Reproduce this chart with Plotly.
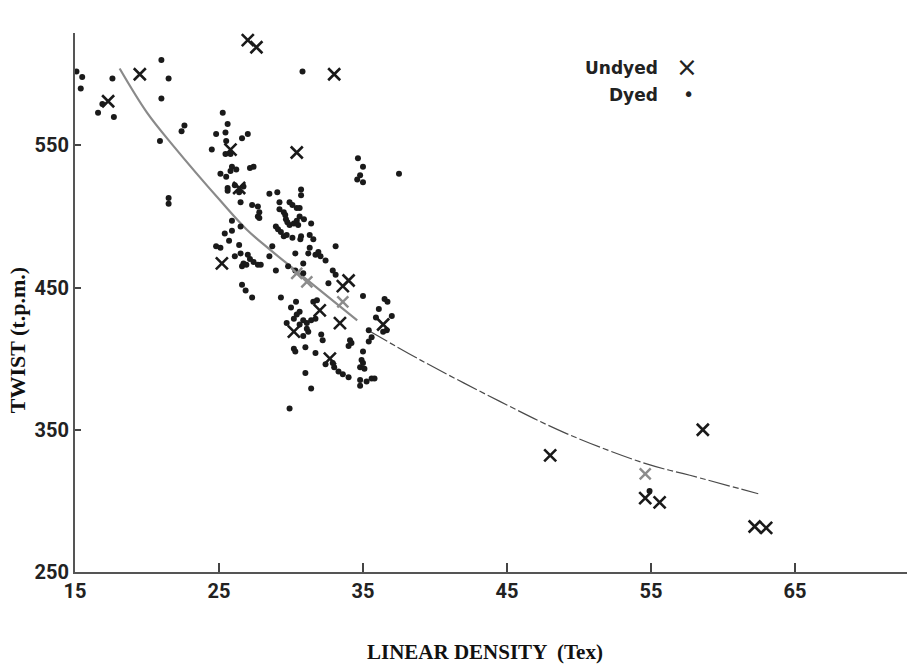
import plotly.graph_objects as go

# ---- Data ----
dyed_x = [15.1, 15.5, 15.4, 17.6, 16.6, 17.7, 16.9, 21.0, 21.5, 21.0, 20.9, 22.4, 22.6, 21.5, 21.5,
          26.9, 27.5, 28.0, 30.8, 34.65, 35.0, 34.8, 34.6, 35.0, 37.5,
          25.26, 25.6, 24.8, 25.45, 25.5, 26.6, 27.0, 24.5, 25.45, 25.8, 25.9, 26.2, 25.8, 27.15, 27.4,
          25.1, 25.5, 25.6, 25.6, 26.1, 26.7, 26.4, 28.5, 29.05, 30.7, 30.7, 26.5, 27.3, 27.7, 27.8,
          27.7, 27.8, 29.2, 29.9, 30.1, 30.4, 30.6, 29.2, 29.5, 29.6, 29.65, 29.75, 29.9, 30.2, 30.4,
          30.6, 30.5, 25.9, 26.5, 25.4, 25.9, 25.7, 28.95, 29.1, 29.3, 29.5, 29.7, 30.1, 30.7, 30.65,
          24.8, 25.1, 26.4, 28.7, 30.3, 26.1, 26.5, 27.0, 27.15, 27.4, 27.7, 27.9, 26.7, 26.6, 26.9,
          28.5, 28.95, 29.8, 30.3, 26.6, 26.85, 27.3, 29.3, 30.35, 30.9, 31.4, 31.3, 31.55, 33.1,
          31.3, 31.2, 31.7, 31.9, 32.05, 32.4, 30.85, 30.85, 32.9, 33.1, 32.6, 35.0, 36.5, 36.7,
          31.55, 31.8, 36.1, 35.9, 37.0, 36.65, 36.4, 35.4, 35.6, 35.4, 35.0, 34.9, 35.0, 34.8, 35.1,
          34.8, 35.25, 35.6, 35.8, 34.8, 30.0, 30.6, 30.4, 30.2, 30.85, 31.1, 31.4, 31.7, 29.7, 31.1,
          30.85, 31.2, 30.6, 32.1, 32.2, 34.1, 34.2, 34.0, 30.2, 30.3, 31.0, 31.7, 32.9, 33.0, 33.3,
          33.6, 34.0, 32.4, 31.0, 31.4, 29.9, 54.9]
dyed_y = [602, 598, 590, 597, 573, 570, 579, 610, 597, 583, 553, 560, 564, 513, 509,
          643, 645, 637, 602, 541, 535, 529, 526, 524, 530,
          573, 565, 558, 559, 553, 555, 558, 547, 544, 544, 535, 533, 532, 534, 535,
          530, 528, 520, 518, 522, 521, 517, 516, 517, 519, 515, 510, 508, 507, 503,
          500, 499, 510, 510, 508, 506, 506, 505, 503, 501, 498, 496, 494, 495, 497,
          500, 494, 497, 493, 488, 490, 483, 493, 491, 489, 486, 487, 485, 486, 484,
          479, 478, 480, 479, 474, 472, 474, 473, 470, 468, 466, 466, 467, 465, 466,
          472, 462, 465, 462, 452, 448, 443, 443, 440, 498, 495, 487, 484, 479,
          478, 474, 473, 475, 472, 469, 467, 460, 462, 459, 453, 444, 442, 440,
          440, 441, 435, 429, 430, 420, 419, 420, 415, 412, 405, 399, 397, 394, 393,
          385, 384, 386, 386, 381, 436, 433, 431, 428, 427, 425, 427, 428, 425, 421,
          416, 419, 424, 417, 413, 413, 411, 409, 407, 405, 408, 404, 397, 394, 391,
          389, 387, 396, 390, 379, 365, 307]

undyed_x = [19.5, 17.3, 27.0, 27.6, 33.0, 25.8, 30.4, 26.4, 25.2, 34.0, 33.6, 32.0, 33.4,
            36.4, 30.2, 32.7, 48.0, 54.6, 55.6, 58.6, 62.2, 63.0]
undyed_y = [600, 581, 624, 619, 600, 547, 545, 520, 467, 455, 451, 434, 425,
            424, 419, 400, 332, 302, 299, 350, 282, 281]

# faint (grey-printed) undyed crosses lying on the fitted curve
undyed_faint_x = [30.4, 31.1, 33.6, 54.6]
undyed_faint_y = [460, 454, 440, 319]

# fitted curve, read along its printed path
curve_solid_x = [18.1, 20.0, 21.8, 25.1, 26.9, 28.5, 30.2, 34.6]
curve_solid_y = [604, 573, 550, 511, 491, 477, 463, 427]
curve_dash_x = [35.35, 39.0, 44.5, 49.1, 54.7, 57.7, 62.45]
curve_dash_y = [420, 399, 370, 347.5, 326, 318, 305]

x_ticks = [15, 25, 35, 45, 55, 65]
y_ticks = [250, 350, 450, 550]

tick_font = dict(family="Roboto, Arial", size=20, color="#222", weight="bold")
xtitle_font = dict(family="Liberation Serif, Times New Roman, serif", size=21, color="#111", weight="bold")
ytitle_font = dict(family="Liberation Serif, Times New Roman, serif", size=22, color="#111", weight="bold")
legend_font = dict(family="DejaVu Sans, Arial", size=17, color="#222", weight="bold")

fig = go.Figure()

fig.add_trace(go.Scatter(x=curve_solid_x, y=curve_solid_y, mode="lines",
                         line=dict(color="#8a8a8a", width=2.2, shape="spline"),
                         hoverinfo="skip", cliponaxis=False))
fig.add_trace(go.Scatter(x=curve_dash_x, y=curve_dash_y, mode="lines",
                         line=dict(color="#4a4a4a", width=1.2, shape="spline", dash="22px,3px,6px,3px"),
                         hoverinfo="skip", cliponaxis=False))
fig.add_trace(go.Scatter(x=dyed_x, y=dyed_y, mode="markers", name="Dyed",
                         marker=dict(symbol="circle", size=6, color="#1a1a1a"),
                         cliponaxis=False))
fig.add_trace(go.Scatter(x=undyed_faint_x, y=undyed_faint_y, mode="markers",
                         marker=dict(symbol="x-thin", size=11, line=dict(width=2.4, color="#8c8c8c")),
                         cliponaxis=False))
fig.add_trace(go.Scatter(x=undyed_x, y=undyed_y, mode="markers", name="Undyed",
                         marker=dict(symbol="x-thin", size=12, line=dict(width=2.6, color="#1a1a1a")),
                         cliponaxis=False))

fig.update_layout(
    width=915, height=668,
    margin=dict(l=75, r=8, t=33, b=96),
    paper_bgcolor="white", plot_bgcolor="white",
    showlegend=False,
    xaxis=dict(range=[15, 72.78], tickvals=x_ticks, ticktext=[str(v) for v in x_ticks],
               showgrid=False, zeroline=False, showline=True, linecolor="#555", linewidth=2,
               ticks="inside", ticklen=9, tickwidth=1.5, tickcolor="#444", tickfont=tick_font),
    yaxis=dict(range=[250, 629], tickvals=y_ticks, ticktext=[str(v) for v in y_ticks],
               showgrid=False, zeroline=False, showline=True, linecolor="#555", linewidth=2,
               ticks="inside", ticklen=6, tickwidth=1.5, tickcolor="#444", tickfont=tick_font,
               ticklabelstandoff=0),
    annotations=[
        dict(text="LINEAR DENSITY  (Tex)", xref="paper", yref="paper", x=0.493, y=0,
             yshift=-80, xanchor="center", yanchor="middle", showarrow=False, font=xtitle_font),
        dict(text="TWIST (t.p.m.)", xref="paper", yref="paper", x=0, y=0.43,
             xshift=-58, xanchor="center", yanchor="middle", textangle=-90,
             showarrow=False, font=ytitle_font),
        dict(text="Undyed", xref="paper", yref="paper", x=0.703, y=0.935,
             xanchor="right", yanchor="middle", showarrow=False, font=legend_font),
        dict(text="×", xref="paper", yref="paper", x=0.735, y=0.937,
             xanchor="center", yanchor="middle", showarrow=False,
             font=dict(family="DejaVu Sans", size=26, color="#222")),
        dict(text="Dyed", xref="paper", yref="paper", x=0.703, y=0.885,
             xanchor="right", yanchor="middle", showarrow=False, font=legend_font),
        dict(text="•", xref="paper", yref="paper", x=0.737, y=0.886,
             xanchor="center", yanchor="middle", showarrow=False,
             font=dict(family="DejaVu Sans", size=19, color="#222")),
    ],
)

fig.write_html("out.html")
